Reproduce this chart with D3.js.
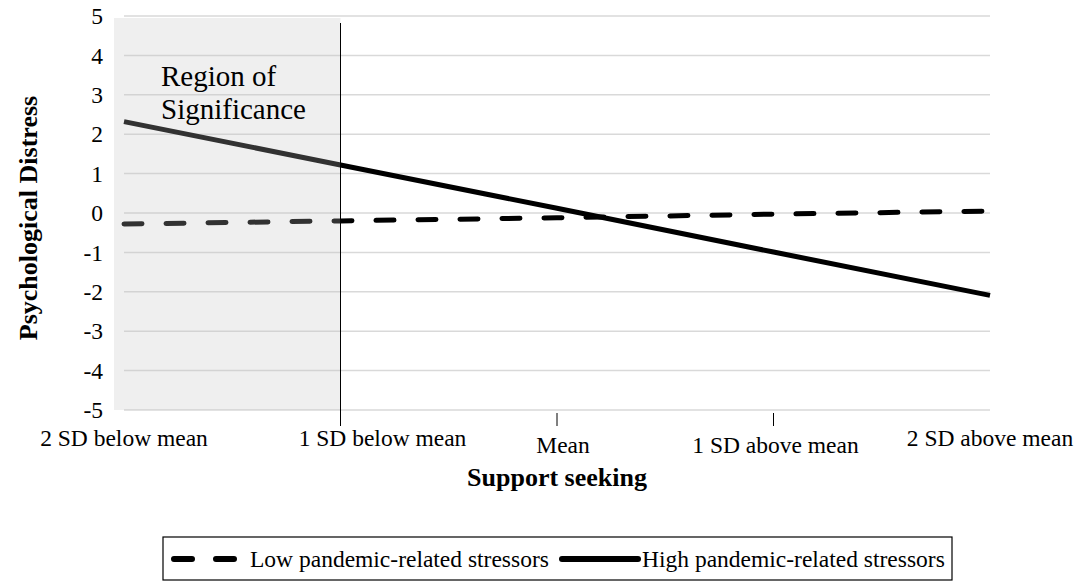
<!DOCTYPE html>
<html><head><meta charset="utf-8">
<script src="https://cdn.jsdelivr.net/npm/d3@7"></script>
<style>body{margin:0;background:#fff}svg{display:block}</style>
</head><body>
<svg id="c" width="1087" height="583"></svg>
<script>
const categories = ["2 SD below mean","1 SD below mean","Mean","1 SD above mean","2 SD above mean"];
const lowStressors = [-0.28,-0.2,-0.12,-0.03,0.05];
const highStressors = [2.32,1.22,0.12,-0.99,-2.09];
const yTicks = [5,4,3,2,1,0,-1,-2,-3,-4,-5];
const seriesNames = ["Low pandemic-related stressors","High pandemic-related stressors"];
const regionEnd = "1 SD below mean";
const FONT = "Liberation Serif";

const svg = d3.select("#c");
const x = d3.scalePoint().domain(categories).range([124,990]);
const y = d3.scaleLinear().domain([-5,5]).range([410,16]);

// gridlines
svg.append("g").selectAll("line").data(yTicks).join("line")
  .attr("x1",124).attr("x2",990).attr("y1",d=>y(d)).attr("y2",d=>y(d))
  .attr("stroke","#d9d9d9").attr("stroke-width",1.5);

// y tick labels
svg.append("g").selectAll("text").data(yTicks).join("text")
  .attr("x",103).attr("y",d=>y(d)).attr("dy","0.35em").attr("text-anchor","end")
  .style("font-family",FONT).style("font-size","23.5px").text(d=>d);

// x ticks (interior)
svg.append("g").selectAll("line").data(categories.slice(2,4)).join("line")
  .attr("x1",d=>x(d)).attr("x2",d=>x(d)).attr("y1",413).attr("y2",426)
  .attr("stroke","#000").attr("stroke-width",1);

// x labels
const labelDx = [0,42,6,2,0];
const labelDy = [0,0,7,7,0];
svg.append("g").selectAll("text").data(categories).join("text")
  .attr("x",(d,i)=>x(d)+labelDx[i]).attr("y",(d,i)=>446+labelDy[i]).attr("text-anchor","middle")
  .style("font-family",FONT).style("font-size","23.5px").text(d=>d);

const line = d3.line().x((d,i)=>x(categories[i])).y(d=>y(d));
svg.append("path").datum(lowStressors).attr("d",line).attr("fill","none")
  .attr("stroke","#000").attr("stroke-width",5).attr("stroke-linecap","round")
  .attr("stroke-dasharray","18,24");
svg.append("path").datum(highStressors).attr("d",line).attr("fill","none")
  .attr("stroke","#000").attr("stroke-width",5);

// region of significance overlay
svg.append("rect").attr("x",114).attr("y",18).attr("width",x(regionEnd)-114).attr("height",y(-5)-18)
  .attr("fill","rgb(192,192,192)").attr("fill-opacity",0.26);
svg.append("line").attr("x1",x(regionEnd)).attr("x2",x(regionEnd)).attr("y1",23).attr("y2",426)
  .attr("stroke","#000").attr("stroke-width",1);
svg.append("text").attr("x",161).attr("y",86).style("font-family",FONT).style("font-size","29px").text("Region of");
svg.append("text").attr("x",161).attr("y",119).style("font-family",FONT).style("font-size","29px").text("Significance");

// axis titles
svg.append("text").attr("x",557).attr("y",486).attr("text-anchor","middle")
  .style("font-family",FONT).style("font-size","26px").style("font-weight","bold").text("Support seeking");
svg.append("text").attr("transform","translate(37,218) rotate(-90)").attr("text-anchor","middle")
  .style("font-family",FONT).style("font-size","26px").style("font-weight","bold").text("Psychological Distress");

// legend
const lg = svg.append("g");
lg.append("rect").attr("x",163).attr("y",537).attr("width",789).attr("height",43)
  .attr("fill","#fff").attr("stroke","#000").attr("stroke-width",1.2);
lg.append("line").attr("x1",174).attr("x2",237).attr("y1",559).attr("y2",559)
  .attr("stroke","#000").attr("stroke-width",6).attr("stroke-linecap","round").attr("stroke-dasharray","18,24");
lg.append("text").attr("x",250).attr("y",559).attr("dy","0.35em").style("font-family",FONT).style("font-size","23.5px").text(seriesNames[0]);
lg.append("line").attr("x1",562).attr("x2",638).attr("y1",559).attr("y2",559)
  .attr("stroke","#000").attr("stroke-width",6).attr("stroke-linecap","round");
lg.append("text").attr("x",642).attr("y",559).attr("dy","0.35em").style("font-family",FONT).style("font-size","23.5px").text(seriesNames[1]);
</script>
</body></html>
